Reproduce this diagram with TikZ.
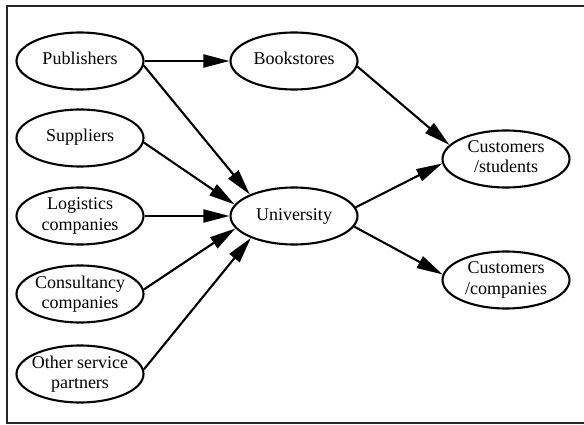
\documentclass[tikz,border=0pt]{standalone}
\usepackage{fontspec}
\setmainfont{Liberation Serif}
\usetikzlibrary{shapes.geometric,arrows.meta}
% centred label whose width does not enlarge the ellipse
\newcommand{\lbl}[1]{\makebox[0pt]{\begin{tabular}{@{}c@{}}#1\end{tabular}}}
\begin{document}
\begin{tikzpicture}[x=1pt,y=-1pt,
  actor/.style={ellipse,draw,line width=2.1pt,inner sep=0pt,
    minimum width=127pt,minimum height=57pt,
    font=\fontsize{18}{20}\selectfont},
  link/.style={line width=2.1pt,-{Triangle[length=26pt,width=13pt]}},
  frame/.style={line width=2pt,draw=black!85}]
\useasboundingbox (0,0) rectangle (584,425);
% outer frame (open on the right)
\draw[frame] (600,6) -- (7,6) -- (7,423) -- (600,423);

% partners on the left
\node[actor] (pub) at (80,61)  {\lbl{Publishers}};
\node[actor] (sup) at (80,138) {\lbl{Suppliers}};
\node[actor] (log) at (80,216) {\lbl{Logistics\\companies}};
\node[actor] (con) at (80,294) {\lbl{Consultancy\\companies}};
\node[actor] (oth) at (80,374) {\lbl{Other service\\partners}};

% middle column
\node[actor] (book) at (294,61)  {\lbl{Bookstores}};
\node[actor] (uni)  at (294,216) {\lbl{University}};

% customers
\node[actor] (cst) at (506,159) {\lbl{Customers\\/students}};
\node[actor] (ccp) at (506,280) {\lbl{Customers\\/companies}};

% flows
\draw[link] (pub.east) -- (book.west);
\draw[link] (pub.-4) -- (uni.154);
\draw[link] (sup.-4) -- (uni.169);
\draw[link] (log.east) -- (uni.west);
\draw[link] (con.4) -- (uni.192);
\draw[link] (oth.4) -- (uni.207);
\draw[link] (book.-5) -- (cst.166);
\draw[link] (uni.8) -- (cst.184);
\draw[link] (uni.-10) -- (ccp.175);
\end{tikzpicture}
\end{document}
